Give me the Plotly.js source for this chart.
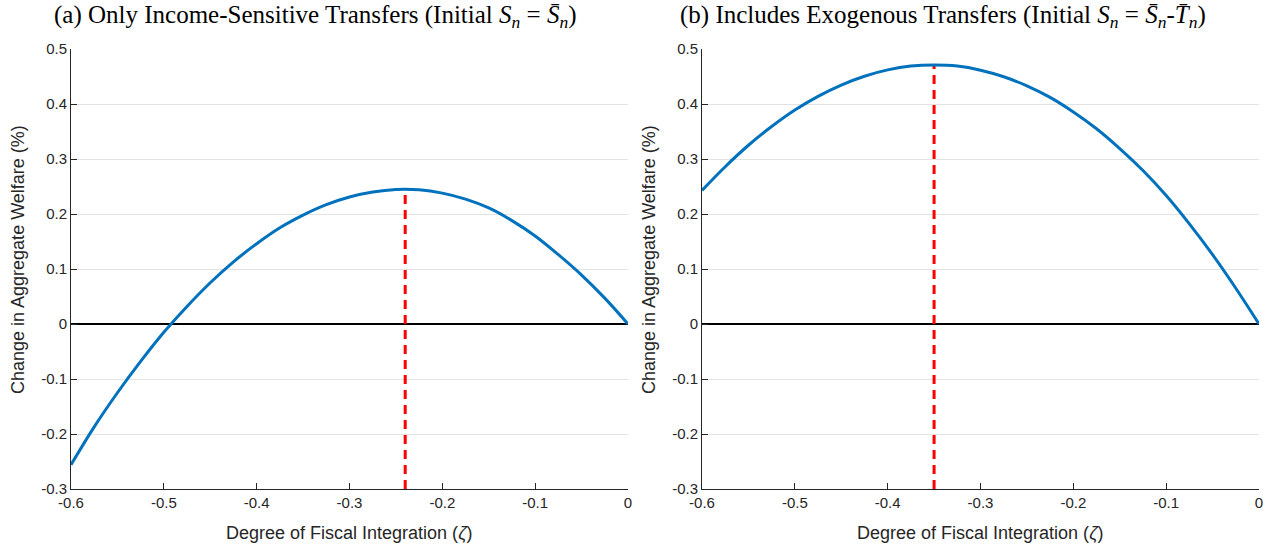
<!DOCTYPE html>
<html>
<head>
<meta charset="utf-8">
<script src="https://cdn.plot.ly/plotly-3.0.1.min.js"></script>
<style>html,body{margin:0;padding:0;background:#fff;}#chart{width:1276px;height:550px;}</style>
</head>
<body>
<div id="chart"></div>
<script>
// Degree of fiscal integration (zeta)
const zeta = [-0.600, -0.575, -0.550, -0.525, -0.500, -0.475, -0.450, -0.425, -0.400, -0.375, -0.350, -0.325, -0.300, -0.275, -0.250, -0.225, -0.200, -0.175, -0.150, -0.125, -0.100, -0.075, -0.050, -0.025, 0.000];
// Panel (a): only income-sensitive transfers
const welfareA = [-0.256, -0.187, -0.125, -0.068, -0.015, 0.032, 0.075, 0.113, 0.146, 0.175, 0.198, 0.217, 0.231, 0.240, 0.2446, 0.244, 0.238, 0.227, 0.211, 0.188, 0.160, 0.126, 0.089, 0.047, 0.000];
// Panel (b): includes exogenous transfers
const welfareB = [0.243, 0.286, 0.325, 0.359, 0.389, 0.414, 0.4345, 0.4505, 0.462, 0.469, 0.471, 0.469, 0.4615, 0.4496, 0.433, 0.412, 0.3855, 0.355, 0.319, 0.279, 0.2335, 0.182, 0.126, 0.065, 0.000];
// Optimal points (red dashed markers)
const optA = {x: -0.24, y: 0.245};
const optB = {x: -0.35, y: 0.471};
const yBottom = -0.3;

const xTickVals = [-0.6, -0.5, -0.4, -0.3, -0.2, -0.1, 0];
const xTickText = ['-0.6', '-0.5', '-0.4', '-0.3', '-0.2', '-0.1', '0'];
const yTickVals = [-0.3, -0.2, -0.1, 0, 0.1, 0.2, 0.3, 0.4, 0.5];
const yTickText = ['-0.3', '-0.2', '-0.1', '0', '0.1', '0.2', '0.3', '0.4', '0.5'];

const titleA = '(a) Only Income-Sensitive Transfers (Initial <i>S<sub>n</sub></i> = <i>S\u0304<sub>n</sub></i>)';
const titleB = '(b) Includes Exogenous Transfers (Initial <i>S<sub>n</sub></i> = <i>S\u0304<sub>n</sub></i>-<i>T\u0304<sub>n</sub></i>)';
const xTitle = 'Degree of Fiscal Integration (<i>\u03B6</i>)';
const yTitle = 'Change in Aggregate Welfare (%)';

const blue = '#0072BD';
const red = '#FF0000';

const traces = [
  {x: [optA.x, optA.x], y: [yBottom, optA.y], xaxis: 'x', yaxis: 'y', mode: 'lines',
   line: {color: red, width: 3, dash: '9px,6px'}, hoverinfo: 'skip'},
  {x: zeta, y: welfareA, xaxis: 'x', yaxis: 'y', mode: 'lines',
   line: {color: blue, width: 3, shape: 'spline', smoothing: 1}},
  {x: [optB.x, optB.x], y: [yBottom, optB.y], xaxis: 'x2', yaxis: 'y2', mode: 'lines',
   line: {color: red, width: 3, dash: '9px,6px'}, hoverinfo: 'skip'},
  {x: zeta, y: welfareB, xaxis: 'x2', yaxis: 'y2', mode: 'lines',
   line: {color: blue, width: 3, shape: 'spline', smoothing: 1}}
];

const tickFont = {family: 'Liberation Sans, Arial, sans-serif', size: 15, color: '#262626'};
function xAxis(dom, anchor) {
  return {domain: dom, anchor: anchor, range: [-0.6, 0], tickvals: xTickVals, ticktext: xTickText,
    ticks: 'inside', ticklen: 6, tickcolor: '#262626', tickwidth: 1, showline: true, linecolor: '#262626', linewidth: 1,
    showgrid: false, zeroline: false, tickfont: tickFont, fixedrange: true, automargin: false};
}
function yAxis(anchor) {
  return {domain: [0.1109, 0.9109], anchor: anchor, range: [-0.3, 0.5], tickvals: yTickVals, ticktext: yTickText,
    ticks: 'inside', ticklen: 6, tickcolor: '#262626', tickwidth: 1, showline: true, linecolor: '#262626', linewidth: 1,
    showgrid: true, gridcolor: '#e3e3e3', gridwidth: 1, zeroline: true, zerolinecolor: '#000000', zerolinewidth: 2,
    tickfont: tickFont, fixedrange: true, automargin: false};
}

const axTitleFont = {family: 'Liberation Sans, Arial, sans-serif', size: 18, color: '#262626'};
const mainTitleFont = {family: 'Liberation Serif, Times New Roman, serif', size: 25, color: '#000000'};

const layout = {
  width: 1276, height: 550,
  margin: {l: 0, r: 0, t: 0, b: 0},
  paper_bgcolor: '#ffffff', plot_bgcolor: '#ffffff',
  showlegend: false,
  xaxis: xAxis([71/1276, 628/1276], 'y'),
  yaxis: yAxis('x'),
  xaxis2: xAxis([702/1276, 1259/1276], 'y2'),
  yaxis2: yAxis('x2'),
  annotations: [
    {text: titleA, xref: 'paper', yref: 'paper', x: 315/1276, y: 1 - 17/550, xanchor: 'center', yanchor: 'middle', showarrow: false, font: mainTitleFont},
    {text: titleB, xref: 'paper', yref: 'paper', x: 943/1276, y: 1 - 17/550, xanchor: 'center', yanchor: 'middle', showarrow: false, font: mainTitleFont},
    {text: xTitle, xref: 'paper', yref: 'paper', x: 349/1276, y: 1 - 533/550, xanchor: 'center', yanchor: 'middle', showarrow: false, font: axTitleFont},
    {text: xTitle, xref: 'paper', yref: 'paper', x: 980/1276, y: 1 - 533/550, xanchor: 'center', yanchor: 'middle', showarrow: false, font: axTitleFont},
    {text: yTitle, xref: 'paper', yref: 'paper', x: 18/1276, y: 1 - 260/550, xanchor: 'center', yanchor: 'middle', textangle: -90, showarrow: false, font: axTitleFont},
    {text: yTitle, xref: 'paper', yref: 'paper', x: 649/1276, y: 1 - 260/550, xanchor: 'center', yanchor: 'middle', textangle: -90, showarrow: false, font: axTitleFont}
  ]
};

Plotly.newPlot('chart', traces, layout, {displayModeBar: false, staticPlot: true});
</script>
</body>
</html>
